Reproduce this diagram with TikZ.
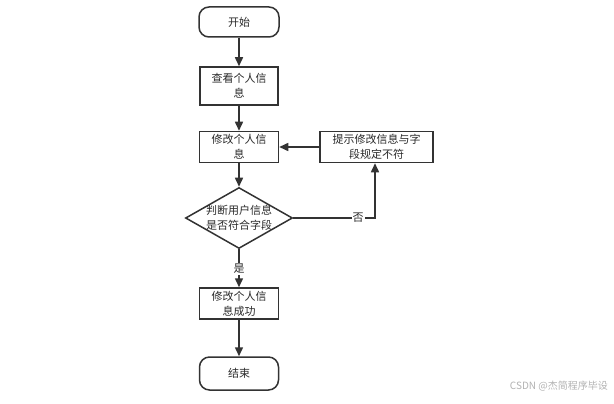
\documentclass[tikz,border=0pt]{standalone}
\usepackage{fontspec}
\newfontfamily\cjk{Noto Sans CJK SC}
\usetikzlibrary{shapes.geometric,arrows.meta}
\definecolor{ln}{HTML}{333333}
\definecolor{tx}{HTML}{2A2A2A}
\tikzset{
  base/.style={draw=ln,line width=1.5pt,inner sep=0pt,font=\cjk\fontsize{11}{15}\selectfont,text=tx,align=center},
  term/.style={base,rounded corners=10pt},
  proc/.style={base},
  dec/.style={base,diamond},
  conn/.style={draw=ln,line width=1.5pt,-{Triangle[length=9pt,width=8pt]}},
  lab/.style={fill=white,inner sep=1pt,font=\cjk\fontsize{11}{12}\selectfont,text=tx}
}
\begin{document}
\begin{tikzpicture}[x=1pt,y=-1pt]
\useasboundingbox[fill=white] (0,0) rectangle (614,404);
\node[term,minimum width=80pt,minimum height=30pt] (start) at (239,22) {开始};
\node[proc,minimum width=78pt,minimum height=38pt] (view) at (239,86) {查看个人信\\息};
\node[proc,minimum width=79pt,minimum height=31pt] (edit) at (239,147) {修改个人信\\息};
\node[proc,minimum width=113pt,minimum height=31pt] (tip) at (376.5,147) {提示修改信息与字\\段规定不符};
\node[dec,minimum width=107pt,minimum height=61pt] (chk) at (239,218) {};
\node[font=\cjk\fontsize{11}{15}\selectfont,text=tx,align=center,inner sep=0pt] (chkt) at (239,218) {判断用户信息\\是否符合字段};
\node[proc,minimum width=79pt,minimum height=31pt] (ok) at (239,303.5) {修改个人信\\息成功};
\node[term,minimum width=79pt,minimum height=33pt] (end) at (239,373.5) {结束};
\coordinate (corner) at (375,218);
\path[conn] (start) -- (view);
\path[conn] (view) -- (edit);
\path[conn] (edit) -- (chk);
\path[conn] (tip) -- (edit);
\path[conn] (chk.east) -- (corner) -- (tip.south -| corner);
\path[conn] (chk) -- (ok);
\path[conn] (ok) -- (end);
\node[lab] (no) at (358,218) {否};
\node[lab] (yes) at (239,269) {是};
\node[font=\cjk\fontsize{10}{11}\selectfont,text=black!30,anchor=east,inner sep=0pt] (wm) at (608,386) {CSDN @杰简程序毕设};
\end{tikzpicture}
\end{document}
